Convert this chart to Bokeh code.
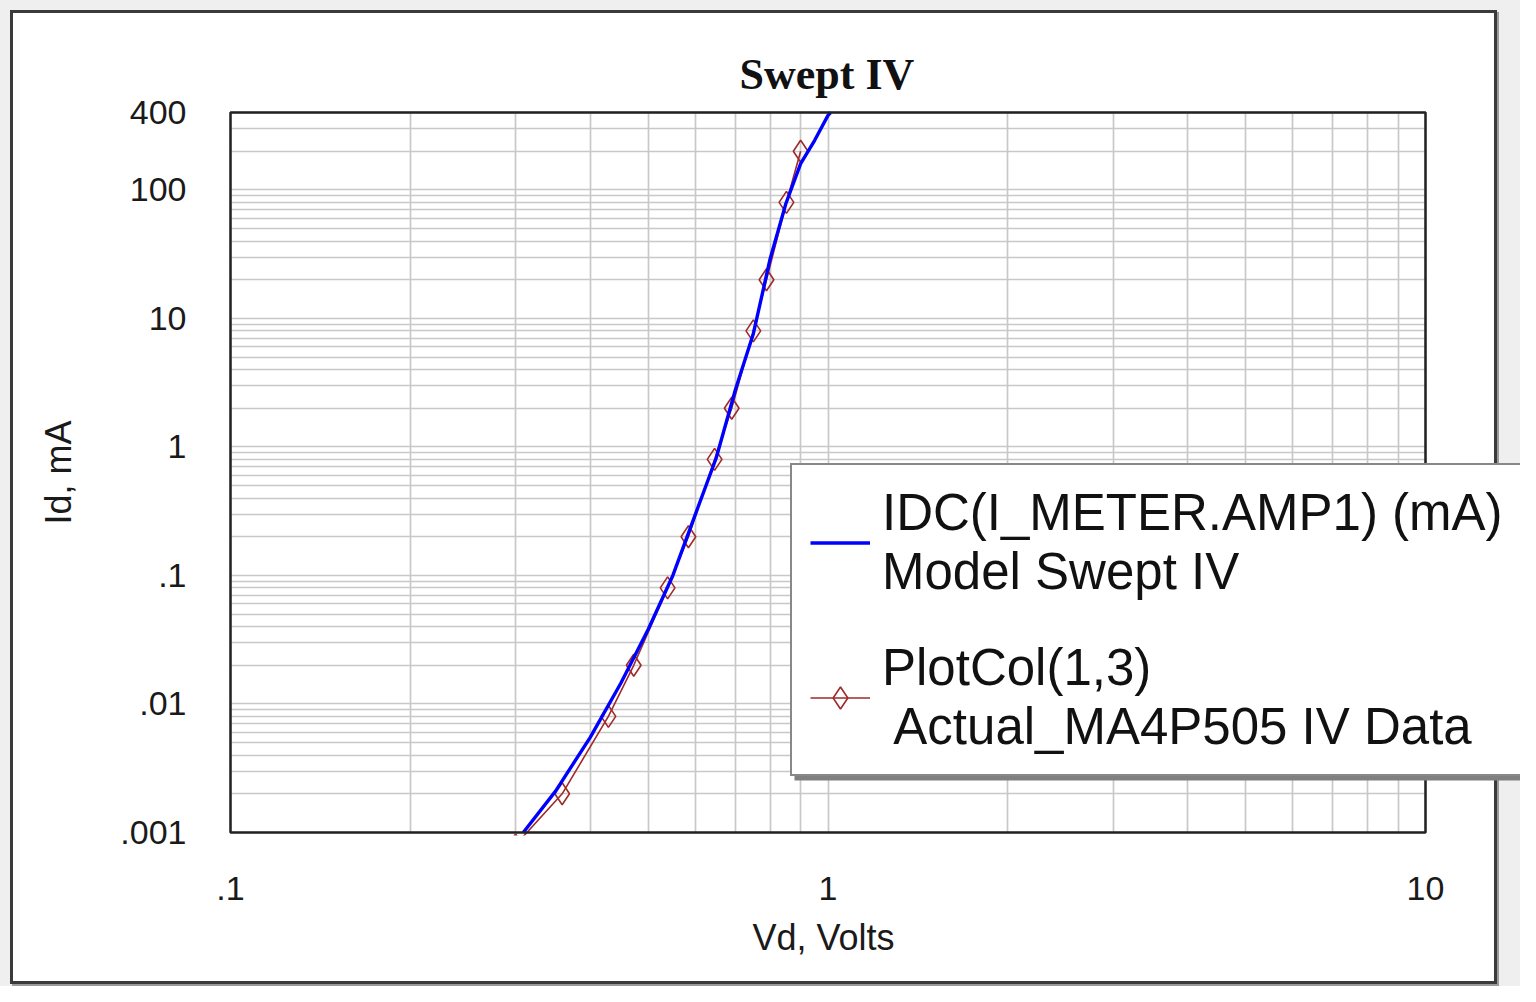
from bokeh.plotting import figure
from bokeh.models import (FixedTicker, CustomJSTickFormatter, Legend, LegendItem,
                          BoxAnnotation, Title)
from bokeh.embed import file_html
from bokeh.resources import INLINE

# ---- data ----
model_v = [0.309, 0.35, 0.40, 0.45, 0.50, 0.55, 0.60, 0.65, 0.70, 0.75, 0.80, 0.85, 0.90, 0.95, 1.00, 1.01]
model_i = [0.001, 0.0021, 0.0055, 0.0145, 0.038, 0.10, 0.30, 0.82, 2.8, 7.6, 29, 78, 160, 243, 380, 400]

data_v = [0.30, 0.359, 0.429, 0.473, 0.539, 0.584, 0.646, 0.690, 0.750, 0.789, 0.852, 0.900]
data_i = [0.0008, 0.002, 0.008, 0.02, 0.08, 0.2, 0.8, 2.0, 8.0, 20, 80, 200]

x_ticks = [0.1, 1, 10]
y_ticks = [0.001, 0.01, 0.1, 1, 10, 100, 400]
x_limits = (0.1, 10)
y_limits = (0.001, 400)

title_text = "Swept IV"
x_title = "Vd, Volts"
y_title = "Id, mA"
model_label = "IDC(I_METER.AMP1) (mA)\nModel Swept IV"
data_label = "PlotCol(1,3)\n Actual_MA4P505 IV Data"

FONT = "Liberation Sans"
GRID = "#c8c8c8"

W, H = 1520, 986
# pixel layout of the plotting area (log decades -> pixels)
PX_DEC_X = 597.5
PX_DEC_Y = 128.5
PAD = 3
x_range = (x_limits[0] * 10 ** (-PAD / PX_DEC_X), x_limits[1] * 10 ** ((W - 1425) / PX_DEC_X))
y_range = (y_limits[0] * 10 ** (-PAD / PX_DEC_Y), y_limits[1] * 10 ** (PAD / PX_DEC_Y))
FRAME_LEFT, FRAME_TOP, FRAME_H = 227, 109, 726

p = figure(width=W, height=H, x_axis_type="log", y_axis_type="log",
           x_range=x_range, y_range=y_range,
           output_backend="svg", toolbar_location=None,
           min_border_left=FRAME_LEFT, min_border_right=0,
           min_border_top=FRAME_TOP, min_border_bottom=H - FRAME_TOP - FRAME_H,
           background_fill_color=None, border_fill_color=None)

p.stylesheets = ["""
:host { position: relative; z-index: 0; background-color: #efefef; }
:host::before {
  content: ""; position: absolute; z-index: -1;
  left: 10px; top: 10px; width: 1481px; height: 968px;
  background: #ffffff; border: 3px solid #3a3a3a;
  box-shadow: 2px 2px 0 #9a9a9a;
}
"""]

minor_x = [m * d for d in (0.1, 1) for m in range(2, 10)]
minor_y = [m * d for d in (0.001, 0.01, 0.1, 1, 10, 100) for m in range(2, 10)]
xt = FixedTicker(ticks=x_ticks, minor_ticks=minor_x)
yt = FixedTicker(ticks=y_ticks, minor_ticks=minor_y)
p.xaxis.ticker = xt
p.yaxis.ticker = yt
p.xgrid.ticker = xt
p.ygrid.ticker = yt
p.xaxis.bounds = x_limits
p.yaxis.bounds = y_limits

cover_needed = False
try:
    p.xgrid.cross_bounds = y_limits
    p.ygrid.cross_bounds = x_limits
except Exception:
    cover_needed = True

fmt = CustomJSTickFormatter(code="""
const s = String(tick);
return s.startsWith("0.") ? s.slice(1) : s;
""")
p.xaxis.formatter = fmt
p.yaxis.formatter = fmt

for g in (p.xgrid, p.ygrid):
    g.grid_line_color = GRID
    g.grid_line_width = 1.7
    g.minor_grid_line_color = GRID
    g.minor_grid_line_width = 1.7

for ax in (p.xaxis, p.yaxis):
    ax.axis_line_color = None
    ax.major_tick_line_color = None
    ax.minor_tick_line_color = None
    ax.major_tick_out = 0
    ax.major_tick_in = 0
    ax.minor_tick_out = 0
    ax.minor_tick_in = 0
    ax.major_label_text_font = FONT
    ax.major_label_text_font_size = "34px"
    ax.major_label_text_color = "#1a1a1a"
    ax.axis_label_text_font = FONT
    ax.axis_label_text_font_size = "36px"
    ax.axis_label_text_font_style = "normal"
    ax.axis_label_text_color = "#1a1a1a"

p.yaxis.axis_label = y_title
p.xaxis.major_label_standoff = 41
p.yaxis.major_label_standoff = 41
p.yaxis.axis_label_standoff = 38

# x-axis title, centred under the 0.1..10 plotting area
xlab = Title(text=x_title, align="left", offset=525, standoff=24,
             text_font=FONT, text_font_size="36px", text_font_style="normal",
             text_color="#1a1a1a")
p.add_layout(xlab, "below")

p.outline_line_color = None

p.title.text = title_text
p.title.text_font = "Liberation Serif"
p.title.text_font_size = "44px"
p.title.text_font_style = "bold"
p.title.align = "left"
p.title.offset = 512
p.title.text_color = "#111111"
p.title.standoff = 21

RED = "#9e2a2a"
r_line = p.line(data_v, data_i, line_color=RED, line_width=1.6)
r_pts = p.scatter(data_v, data_i, marker="diamond", size=22, fill_color=None,
                  line_color=RED, line_width=1.6)
b_line = p.line(model_v, model_i, line_color="#0000ff", line_width=3.4)

if cover_needed:
    p.add_layout(BoxAnnotation(left=x_limits[1], fill_color="white", fill_alpha=1.0,
                               line_color=None, level="annotation"))

# plotting-area border
p.add_layout(BoxAnnotation(left=x_limits[0], right=x_limits[1],
                           bottom=y_limits[0], top=y_limits[1],
                           fill_color=None, fill_alpha=0,
                           line_color="#222222", line_alpha=1.0, line_width=2.5,
                           level="annotation"))

# legend shadow
p.add_layout(BoxAnnotation(left=794, right=W, top=468, bottom=780,
                           left_units="canvas", right_units="canvas",
                           top_units="canvas", bottom_units="canvas",
                           fill_color="#808080", fill_alpha=1.0,
                           line_color=None, level="annotation"))

legend = Legend(items=[LegendItem(label=model_label, renderers=[b_line]),
                       LegendItem(label=data_label, renderers=[r_line, r_pts])],
                location=(563, 59))
legend.label_text_font = FONT
legend.label_text_font_size = "51px"
legend.label_text_color = "#111111"
legend.glyph_width = 60
legend.glyph_height = 55
legend.label_standoff = 12
legend.label_width = 640
legend.padding = 18
legend.spacing = 37
legend.margin = 0
legend.border_line_color = "#111111"
legend.border_line_width = 2.5
legend.background_fill_color = "white"
legend.background_fill_alpha = 1.0
p.add_layout(legend)

open("out.html", "w").write(file_html(p, INLINE))
